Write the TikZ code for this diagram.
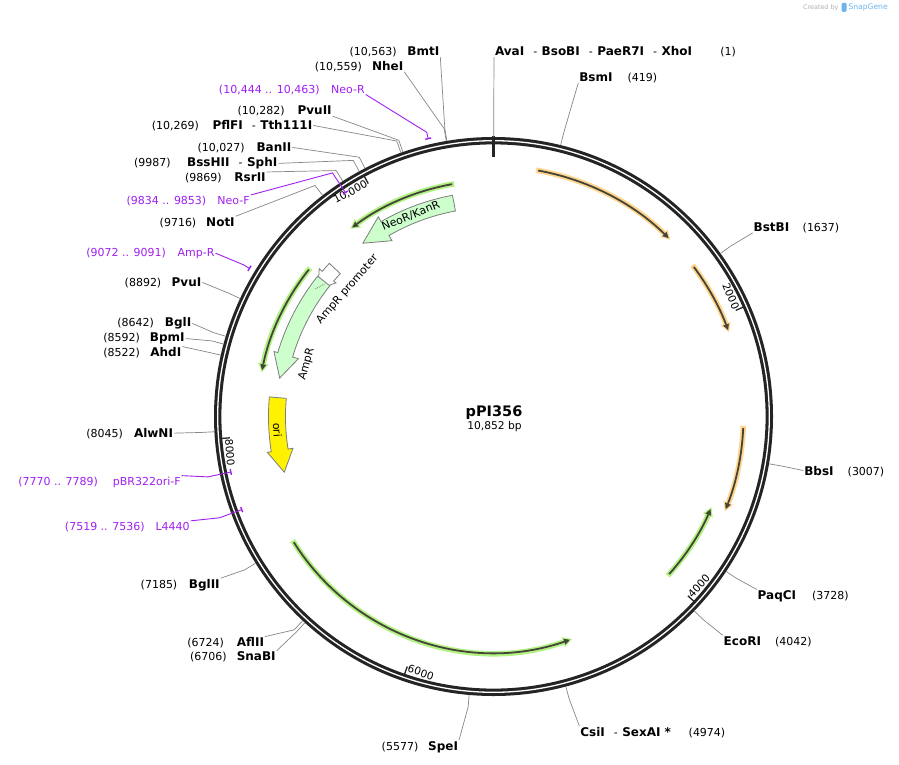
\documentclass[tikz,border=0pt]{standalone}
\usepackage{fontspec}
\setmainfont{DejaVu Sans}
\usetikzlibrary{arrows.meta}
\definecolor{prim}{RGB}{160,32,240}
\definecolor{ringc}{RGB}{36,36,36}
\definecolor{leadc}{RGB}{135,135,135}
\definecolor{featg}{RGB}{204,255,204}
\definecolor{featline}{RGB}{125,125,125}
\definecolor{orglow}{RGB}{255,214,140}
\definecolor{grglow}{RGB}{178,242,130}
\definecolor{arrdark}{RGB}{68,68,58}
\definecolor{sgblue}{RGB}{110,180,235}
\definecolor{sggray}{RGB}{175,175,175}
\newcommand\ag[1]{#1*0.0331736-90}
\newcommand\agm[2]{#1*0.0165868+#2*0.0165868-90}
\newcommand\sepr{\hspace{9pt}{\fontsize{11}{13}\selectfont\mdseries -}\hspace{4.5pt}}
\tikzset{
  numtxt/.style={inner sep=0.8pt, font=\fontsize{11}{13}\selectfont},
  nametxt/.style={inner sep=0.8pt, font=\fontsize{12}{14}\selectfont\bfseries},
  primtxt/.style={inner sep=0.8pt, font=\fontsize{11}{13}\selectfont, text=prim},
  leader/.style={draw=leadc, line width=0.7pt},
  primlead/.style={draw=prim, line width=0.9pt},
  featbox/.style={fill=featg, draw=featline, line width=0.8pt, line join=miter},
  oribox/.style={fill=yellow, draw=featline, line width=0.8pt, line join=miter},
  promobox/.style={fill=white, draw=featline, line width=0.8pt, line join=miter},
  featlbl/.style={inner sep=0pt, font=\fontsize{11}{13}\selectfont},
  ticklbl/.style={inner sep=1.2pt, font=\fontsize{10.5}{12}\selectfont},
}
% left-side enzyme label: id, name end x, baseline, name, number end x, number
\newcommand\lenz[6]{%
  \node[nametxt, anchor=base east] (n#1) at (#2,#3) {#4};
  \node[numtxt, anchor=base east] (c#1) at (#5,#3) {#6};}
% right-side enzyme label: id, name start x, baseline, name, number start x, number
\newcommand\renz[6]{%
  \node[nametxt, anchor=base west] (n#1) at (#2,#3) {#4};
  \node[numtxt, anchor=base west] (c#1) at (#5,#3) {#6};}
% primer label
\newcommand\lprim[6]{%
  \node[primtxt, anchor=base east] (n#1) at (#2,#3) {#4};
  \node[primtxt, anchor=base east] (c#1) at (#5,#3) {#6};}
\newcommand\enzlead[2]{\draw[leader] (#1) -- ({\ag{#2}}:292) -- ({\ag{#2}}:279.5);}
\newcommand\primout[3]{%
  \draw[primlead] (#1) -- ({\agm{#2}{#3}}:292) -- ({\agm{#2}{#3}}:285.5);
  \draw[prim, line width=1.4pt] ({\ag{#2}-0.3}:285.5) arc[start angle={\ag{#2}-0.3}, end angle={\ag{#3}+0.3}, radius=285.5];}
\newcommand\primin[3]{%
  \draw[primlead] (#1) -- ({\agm{#2}{#3}}:292) -- ({\agm{#2}{#3}}:268.5);
  \draw[prim, line width=1.4pt] ({\ag{#2}-0.3}:268.5) arc[start angle={\ag{#2}-0.3}, end angle={\ag{#3}+0.3}, radius=268.5];}
% band arrow: style, phi start, phi head base, phi tip, r1, r2, rh1, rh2
\newcommand\bandarrow[8]{%
  \draw[#1] ({#2-90}:#6) arc[start angle={#2-90}, end angle={#3-90}, radius=#6] -- ({#3-90}:#8) -- ({#4-90}:{(#5+#6)/2}) -- ({#3-90}:#7) -- ({#3-90}:#5) arc[start angle={#3-90}, end angle={#2-90}, radius=#5] -- cycle;}
% thin ORF arrow: glow colour, phi start, phi end, radius, glow extension
\newcommand\orfarc[5]{%
  \draw[#1, line width=5.5pt, -{Triangle[length=9pt,width=10.5pt,line width=0pt]}] ({#2-90-(#5)}:#4) arc[start angle={#2-90-(#5)}, end angle={#3-90+(#5)}, radius=#4];
  \draw[arrdark, line width=1.8pt, -{Triangle[length=6pt,width=6pt,line width=0pt]}] ({#2-90}:#4) arc[start angle={#2-90}, end angle={#3-90}, radius=#4];}
\begin{document}
\begin{tikzpicture}[x=1pt,y=1pt]
\begin{scope}[yscale=-1]
\fill[white] (0,0) rectangle (899,765);
\useasboundingbox (0,0) rectangle (899,765);

% ---- enzyme labels, left side
\lenz{Bmt}{440.3}{56}{BmtI}{397.7}{(10,563)}
\lenz{Nhe}{404.3}{70.7}{NheI}{363}{(10,559)}
\lenz{PvuII}{332.7}{115}{PvuII}{285.7}{(10,282)}
\lenz{Pfl}{313.3}{130}{PflFI\sepr Tth111I}{200}{(10,269)}
\lenz{Ban}{292.3}{151.7}{BanII}{245.7}{(10,027)}
\lenz{Bss}{278.3}{166.7}{BssHII\sepr SphI}{171.7}{(9987)}
\lenz{Rsr}{266.7}{181.7}{RsrII}{222.7}{(9869)}
\lenz{Not}{235.7}{226}{NotI}{197.3}{(9716)}
\lenz{PvuI}{202.3}{286.7}{PvuI}{162.3}{(8892)}
\lenz{BglI}{192.3}{326.7}{BglI}{155}{(8642)}
\lenz{Bpm}{185.7}{341.7}{BpmI}{141}{(8592)}
\lenz{Ahd}{182.3}{356.7}{AhdI}{141}{(8522)}
\lenz{Alw}{174}{437.7}{AlwNI}{124}{(8045)}
\lenz{BglII}{220.7}{588.3}{BglII}{178.3}{(7185)}
\lenz{Afl}{265}{646.7}{AflII}{225}{(6724)}
\lenz{Sna}{276.7}{660.7}{SnaBI}{227.7}{(6706)}
\lenz{Spe}{459}{750}{SpeI}{419.3}{(5577)}
% ---- enzyme labels, right side
\renz{Ava}{494}{56}{AvaI\sepr BsoBI\sepr PaeR7I\sepr XhoI}{719.3}{(1)}
\renz{Bsm}{578.3}{81.7}{BsmI}{626.7}{(419)}
\renz{Bst}{752.7}{231.7}{BstBI}{801.7}{(1637)}
\renz{Bbs}{803.3}{475}{BbsI}{846.7}{(3007)}
\renz{Paq}{756.7}{599.3}{PaqCI}{811}{(3728)}
\renz{Eco}{722.7}{645}{EcoRI}{774}{(4042)}
\renz{Csi}{579.3}{736}{CsiI\sepr SexAI *}{687.7}{(4974)}
% ---- primer labels
\lprim{NeoR}{365.7}{93.3}{Neo-R}{320.7}{(10,444 .. 10,463)}
\lprim{NeoF}{250.7}{204}{Neo-F}{207.3}{(9834 .. 9853)}
\lprim{AmpRp}{215.5}{256}{Amp-R}{167}{(9072 .. 9091)}
\lprim{Pbr}{181.7}{485}{pBR322ori-F}{99}{(7770 .. 7789)}
\lprim{L44}{190.7}{530}{L4440}{145.7}{(7519 .. 7536)}

% ---- centre
\node[inner sep=0pt, anchor=base, font=\fontsize{14.5}{16}\selectfont\bfseries] (title) at (494,416) {pPI356};
\node[inner sep=0pt, anchor=base, font=\fontsize{10.7}{12}\selectfont] (size) at (494.5,429.3) {10,852 bp};

% ---- SnapGene mark
\node[inner sep=0pt, anchor=base west, text=sggray, font=\fontsize{6.4}{7}\selectfont] (cby) at (803,9.3) {Created by};
\fill[sgblue, rounded corners=1.2pt] (841.5,2.8) rectangle (846.5,11.8);
\node[inner sep=0pt, anchor=base west, text=sgblue, font=\fontsize{7.6}{8}\selectfont] (sgn) at (848.3,10) {SnapGene};

\begin{scope}[shift={(493.5,416.5)}]
\coordinate (C) at (0,0);
% ring
\draw[ringc, line width=7.4pt] (C) circle[radius=275.8];
\draw[white, line width=1.3pt] (C) circle[radius=275.8];
\draw[ringc, line width=2.6pt] (-90:280) -- (-90:260);
\foreach \p in {2000,4000,6000,8000,10000}
  \draw[ringc, line width=1.3pt] ({\ag{\p}}:272.5) -- ({\ag{\p}}:264.5);
\node[ticklbl, rotate=-66.35, anchor=north east] (t2) at ({\ag{2000}}:271) {2000};
\node[ticklbl, rotate=47.31, anchor=south west] (t4) at ({\ag{4000}}:271) {4000};
\node[ticklbl, rotate=-19.04, anchor=south west] (t6) at ({\ag{6000}}:271) {6000};
\node[ticklbl, rotate=-85.39, anchor=south west] (t8) at ({\ag{8000}}:271) {8000};
\node[ticklbl, rotate=28.26, anchor=north east] (t10) at ({\ag{10000}}:271) {10,000};

% enzyme leaders
\enzlead{nBmt.south east}{10563}
\enzlead{nNhe.south east}{10559}
\enzlead{nPvuII.south east}{10282}
\enzlead{nPfl.east}{10269}
\enzlead{nBan.east}{10027}
\enzlead{nBss.east}{9987}
\enzlead{nRsr.north east}{9869}
\enzlead{nNot.north east}{9716}
\enzlead{nPvuI.east}{8892}
\enzlead{nBglI.east}{8642}
\enzlead{nBpm.east}{8592}
\enzlead{nAhd.north east}{8522}
\enzlead{nAlw.east}{8045}
\enzlead{nBglII.north east}{7185}
\enzlead{nAfl.north east}{6724}
\enzlead{nSna.north east}{6706}
\enzlead{nSpe.north east}{5577}
\enzlead{nAva.south west}{1}
\enzlead{nBsm.south west}{419}
\enzlead{nBst.south west}{1637}
\enzlead{nBbs.west}{3007}
\enzlead{nPaq.north west}{3728}
\enzlead{nEco.north west}{4042}
\enzlead{nCsi.north west}{4974}

% primers
\primout{nNeoR.south east}{10444}{10463}
\primin{nNeoF.north east}{9834}{9853}
\primout{nAmpRp.east}{9072}{9091}
\primin{nPbr.north east}{7770}{7789}
\primin{nL44.north east}{7519}{7536}

% thin ORF arrows
\orfarc{orglow}{10.3}{44.5}{250}{0.5}
\orfarc{orglow}{53.25}{69.8}{250}{0.5}
\orfarc{orglow}{92.64}{111.76}{250}{0.5}
\orfarc{grglow}{131.9}{113.1}{236}{-0.5}
\orfarc{grglow}{237.8}{161.1}{236}{-0.5}
\orfarc{grglow}{349.9}{323.2}{236}{-0.5}
\orfarc{grglow}{308.5}{281.3}{236}{-0.5}

% features
\bandarrow{featbox}{349.5}{330}{323}{209}{225}{203}{230.5}
\bandarrow{promobox}{313}{310.3}{306}{209.5}{224.5}{206.5}{228.5}
\bandarrow{featbox}{308.6}{286.5}{280.2}{209.5}{225}{203.5}{229}
\draw[featline, densely dotted, line width=0.9pt] ({305.6-90}:219) -- ({308.3-90}:214.5);
\bandarrow{oribox}{275}{261}{255.1}{208}{225}{203}{229}
\node[featlbl, rotate=22.4] (lNeo) at ({337.6-90}:217) {NeoR/KanR};
\node[featlbl, rotate=49] (lProm) at ({311-90}:193.5) {AmpR promoter};
\node[featlbl, rotate=74.3] (lAmp) at ({285.7-90}:194) {AmpR};
\node[featlbl, rotate=-86.4] (lOri) at ({266.4-90}:216.5) {ori};
\end{scope}
\end{scope}
\end{tikzpicture}
\end{document}
